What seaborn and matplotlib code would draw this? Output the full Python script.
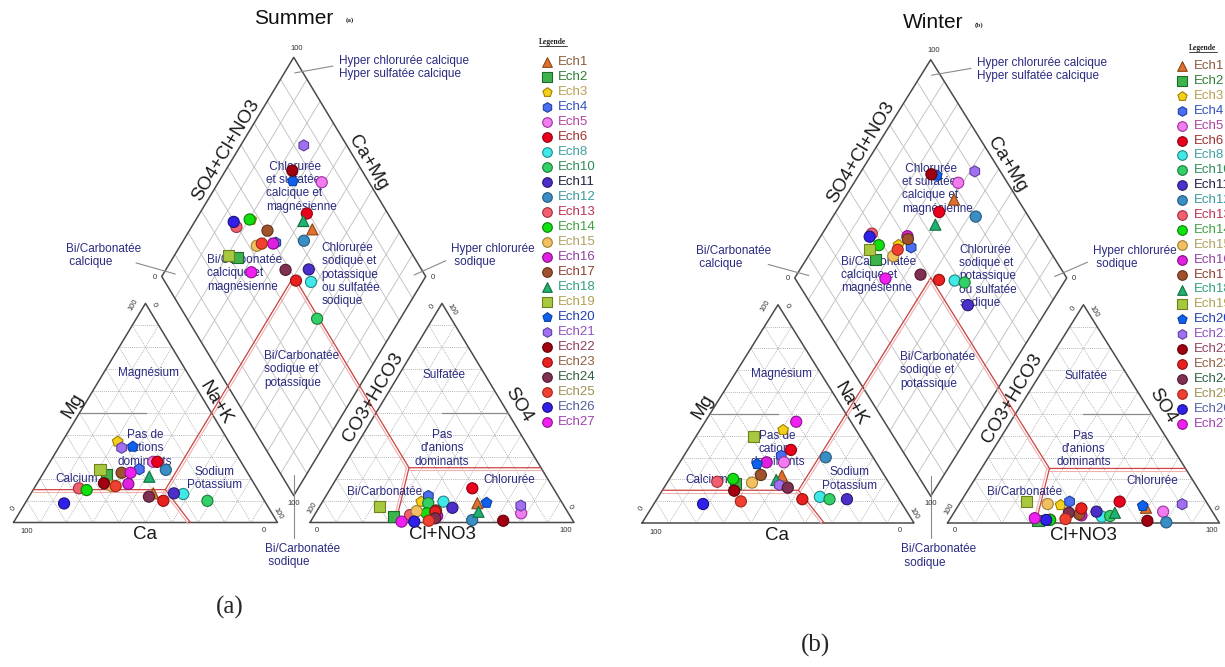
import numpy as np
import pandas as pd
import matplotlib.pyplot as plt
import seaborn as sns

## Echantillons et style de la legende
samples = ['Ech1', 'Ech2', 'Ech3', 'Ech4', 'Ech5', 'Ech6', 'Ech8', 'Ech10', 'Ech11',
           'Ech12', 'Ech13', 'Ech14', 'Ech15', 'Ech16', 'Ech17', 'Ech18', 'Ech19',
           'Ech20', 'Ech21', 'Ech22', 'Ech23', 'Ech24', 'Ech25', 'Ech26', 'Ech27']
markers = ['^', 's', 'p', 'h', 'o', 'o', 'o', 'o', 'o', 'o', 'o', 'o', 'o', 'o', 'o',
           '^', 's', 'p', 'h', 'o', 'o', 'o', 'o', 'o', 'o']
fill_colors = ['#e07030', '#3cb44b', '#f5d01a', '#4a6ef0', '#f07cf0', '#e8001c', '#40e8e8',
               '#33d067', '#4b2fc8', '#3a8ec4', '#f0606e', '#10e010', '#f2c060', '#e020e0',
               '#a0522d', '#20b070', '#a8c840', '#1060f0', '#a070f0', '#a00010', '#e82020',
               '#803050', '#f04030', '#3020e8', '#f020f0']
edge_colors = ['#8b4513', '#1e6b2a', '#a08000', '#2040a0', '#a030a0', '#900010', '#208888',
               '#1a7a3a', '#2a1a70', '#235a80', '#a03040', '#0a800a', '#a08030', '#801080',
               '#603018', '#107040', '#708020', '#0840a0', '#6040a0', '#600008', '#901010',
               '#501830', '#a02818', '#1a1080', '#901090']
text_colors = ['#8b5a3c', '#2e7d32', '#b8a050', '#3050c0', '#b040a0', '#a03030', '#40a0a0',
               '#2e8b57', '#202040', '#3a9a9a', '#c03050', '#40a040', '#b0a060', '#9040a0',
               '#904030', '#30a080', '#b0a050', '#2040b0', '#9050c0', '#904060', '#906040',
               '#306040', '#a09050', '#5060a0', '#a040b0']

## Ete (% meq)
summer_ca = [40.4, 53.9, 42.1, 40.2, 33.2, 31.7, 29.2, 21.6, 32.6, 30.3, 67.4, 64.9, 54.4,
             47.7, 47.7, 38.1, 55.1, 37.5, 42.0, 56.8, 38.3, 42.8, 53.0, 76.5, 44.3]
summer_mg = [13.3, 21.7, 36.9, 24.3, 27.7, 27.7, 13.0, 9.9, 13.3, 24.0, 15.6, 14.8, 16.6,
             17.6, 22.7, 20.9, 24.3, 34.6, 34.1, 17.9, 9.9, 11.8, 16.6, 8.7, 22.7]
summer_cl = [59.0, 30.3, 37.4, 38.8, 77.9, 53.7, 45.8, 40.4, 50.6, 60.9, 36.2, 42.1, 37.8,
             46.7, 45.0, 61.4, 22.5, 62.4, 76.0, 72.8, 45.0, 46.5, 44.6, 39.3, 34.5]
summer_so4 = [8.8, 2.6, 9.5, 12.1, 4.2, 15.6, 9.5, 8.8, 6.7, 1.1, 3.4, 4.2, 5.2,
              3.0, 5.5, 4.9, 7.5, 9.0, 7.7, 0.8, 4.9, 1.9, 0.8, 0.4, 0.4]

## Hiver (% meq)
winter_ca = [37.7, 56.5, 26.8, 33.4, 33.9, 28.5, 28.6, 25.6, 19.2, 17.4, 62.9, 56.4, 50.3,
             40.3, 45.3, 40.8, 39.4, 44.2, 40.8, 58.7, 35.6, 38.3, 58.7, 73.2, 20.1]
winter_mg = [21.7, 18.0, 42.6, 30.8, 27.8, 33.5, 12.0, 10.9, 10.9, 30.1, 18.9, 20.2, 18.5,
             27.8, 22.0, 19.7, 39.5, 27.0, 17.4, 14.8, 10.9, 16.2, 9.9, 8.7, 46.4]
winter_cl = [69.5, 32.8, 37.5, 40.0, 76.7, 58.4, 55.3, 58.2, 52.2, 80.3, 37.0, 37.0, 32.5,
             47.5, 46.5, 59.2, 24.3, 67.9, 82.0, 73.0, 45.9, 42.3, 42.5, 35.6, 31.0]
winter_so4 = [7.0, 1.0, 8.2, 9.8, 5.2, 9.8, 2.9, 3.2, 5.2, 0.3, 1.5, 1.4, 8.7,
              3.5, 4.0, 4.7, 9.8, 7.8, 8.6, 1.0, 6.7, 4.7, 1.8, 1.4, 2.2]

GAP = 12.3
H = np.sqrt(3) / 2
NAVY = '#2a2a80'

sns.set_theme(style='white')
plt.rcParams['font.family'] = ['Liberation Sans', 'DejaVu Sans']


def to_px(p, u, v):
    return p['x0'] + p['sx'] * np.asarray(u, float), p['y0'] - p['sy'] * np.asarray(v, float)


def cation_uv(ca, mg):
    ca, mg = np.asarray(ca), np.asarray(mg)
    return 100 - ca - mg / 2, mg * H


def anion_uv(cl, so4):
    cl, so4 = np.asarray(cl), np.asarray(so4)
    return 100 + GAP + cl + so4 / 2, so4 * H


def diamond_uv(ca, mg, cl, so4):
    c = np.asarray(ca) + np.asarray(mg)
    a = np.asarray(cl) + np.asarray(so4)
    return 100 + GAP / 2 + 0.5 * (a - c), GAP * H + H * (a + c)


def line(ax, p, us, vs, **kw):
    x, y = to_px(p, us, vs)
    ax.plot(x, y, **kw)


def red_line(ax, p, us, vs):
    x, y = to_px(p, us, vs)
    ax.plot(x, y, color='#d04545', lw=0.9, zorder=3)
    for i in range(len(x) - 1):
        dx, dy = x[i + 1] - x[i], y[i + 1] - y[i]
        L = np.hypot(dx, dy)
        nx, ny = -dy / L * 2.5, dx / L * 2.5
        ax.plot([x[i] + nx, x[i + 1] + nx], [y[i] + ny, y[i + 1] + ny],
                color='#efb0b0', lw=0.8, zorder=3)


def label(ax, p, u, v, s, **kw):
    x, y = to_px(p, u, v)
    ax.text(x, y, s, **kw)


def draw_frame(ax, p):
    grid_kw = dict(color='#a0a0a0', lw=0.5, ls=(0, (1.5, 1.5)), zorder=1)
    dgrid_kw = dict(color='#bdbdbd', lw=0.6, zorder=1)
    for off in [0, 100 + GAP]:
        for k in range(10, 100, 10):
            line(ax, p, [off + k / 2, off + 100 - k / 2], [k * H, k * H], **grid_kw)
            line(ax, p, [off + 100 - k, off + (100 - k) / 2], [0, (100 - k) * H], **grid_kw)
            line(ax, p, [off + k, off + (100 + k) / 2], [0, (100 - k) * H], **grid_kw)
        line(ax, p, [off, off + 100, off + 50, off], [0, 0, 100 * H, 0],
             color='#4a4a4a', lw=1.1, zorder=2)
    # traits gris a 50 %
    line(ax, p, [25, 50], [50 * H, 50 * H], color='#8a8a8a', lw=0.9, zorder=2)
    line(ax, p, [100 + GAP + 50, 100 + GAP + 75], [50 * H, 50 * H], color='#8a8a8a', lw=0.9, zorder=2)
    # losange
    bx, by = 100 + GAP / 2, GAP * H
    for k in range(10, 100, 10):
        line(ax, p, [bx + k / 2, bx + k / 2 - 50], [by + k * H, by + k * H + 100 * H], **dgrid_kw)
        line(ax, p, [bx - k / 2, bx - k / 2 + 50], [by + k * H, by + k * H + 100 * H], **dgrid_kw)
    line(ax, p, [bx, bx - 50, bx, bx + 50, bx], [by, by + 100 * H, by + 200 * H, by + 100 * H, by],
         color='#4a4a4a', lw=1.1, zorder=2)
    # limites de facies (rouge)
    cx, cy = bx, by + 100 * H
    red_line(ax, p, [7.5, 57.5, 67.0], [15 * H, 15 * H, 0])
    red_line(ax, p, [57.5, cx], [15 * H, cy])
    red_line(ax, p, [cx, 100 + GAP + 37.5, 100 + GAP + 87.5], [cy, 25 * H, 25 * H])
    red_line(ax, p, [100 + GAP + 37.5, 100 + GAP + 32.5], [25 * H, 0])
    # traits de rappel
    lk = dict(color='#8a8a8a', lw=0.8, zorder=2)
    line(ax, p, [106.5, 121.0], [177.7, 180.4], **lk)
    line(ax, p, [46.4, 61.3], [102.6, 98.2], **lk)
    line(ax, p, [163.8, 151.7], [103.5, 97.8], **lk)
    line(ax, p, [bx, bx], [18.8, -6.1], **lk)

    # textes des facies
    t = dict(color=NAVY, fontsize=8.5, linespacing=1.15, zorder=4)
    label(ax, p, 95.6, 143.0, ' Chlorurée\net sulfatée\ncalcique et\nmagnésienne', ha='left', va='top', **t)
    label(ax, p, 73.2, 106.1, 'Bi/Carbonatée\ncalcique et\nmagnésienne', ha='left', va='top', **t)
    label(ax, p, 116.7, 110.9, 'Chlorurée\nsodique et\npotassique\nou sulfatée\nsodique', ha='left', va='top', **t)
    label(ax, p, 94.9, 68.2, 'Bi/Carbonatée\nsodique et\npotassique', ha='left', va='top', **t)
    label(ax, p, 123.2, 184.9, 'Hyper chlorurée calcique\nHyper sulfatée calcique', ha='left', va='top', **t)
    label(ax, p, 19.8, 110.5, 'Bi/Carbonatée\n calcique', ha='left', va='top', **t)
    label(ax, p, 165.9, 110.5, 'Hyper chlorurée\n sodique', ha='left', va='top', **t)
    label(ax, p, 95.2, -8.1, 'Bi/Carbonatée\n sodique', ha='left', va='top', **t)
    label(ax, p, 51.3, 59.2, 'Magnésium', ha='center', va='center', **t)
    label(ax, p, 49.8, 37.0, 'Pas de\ncations\ndominants', ha='center', va='top', **t)
    label(ax, p, 23.9, 17.1, 'Calcium', ha='center', va='center', **t)
    label(ax, p, 76.3, 22.5, 'Sodium\nPotassium', ha='center', va='top', **t)
    label(ax, p, 163.1, 58.3, 'Sulfatée', ha='center', va='center', **t)
    label(ax, p, 162.3, 37.0, 'Pas\nd\'anions\ndominants', ha='center', va='top', **t)
    label(ax, p, 187.7, 16.8, 'Chlorurée', ha='center', va='center', **t)
    label(ax, p, 140.6, 12.2, 'Bi/Carbonatée', ha='center', va='center', **t)

    # noms des axes
    a = dict(color='#1a1a1a', fontsize=13.5, ha='center', va='center', zorder=4)
    label(ax, p, 80.4, 147.2, 'SO4+Cl+NO3', rotation=59, **a)
    label(ax, p, 134.1, 142.1, 'Ca+Mg', rotation=-59, **a)
    label(ax, p, 22.4, 46.4, 'Mg', rotation=59, **a)
    label(ax, p, 76.7, 47.2, 'Na+K', rotation=-59, **a)
    label(ax, p, 49.7, -4.9, 'Ca', **a)
    label(ax, p, 136.2, 49.6, 'CO3+HCO3', rotation=59, **a)
    label(ax, p, 191.3, 46.4, 'SO4', rotation=-59, **a)
    label(ax, p, 162.3, -4.9, 'Cl+NO3', **a)

    # graduations 0 / 100
    s = dict(color='#333333', fontsize=5.5, ha='center', va='center', zorder=4)
    label(ax, p, 5.0, -3.6, '100', **s)
    label(ax, p, 94.9, -3.0, '0', **s)
    label(ax, p, -0.1, 5.7, '0', rotation=59, **s)
    label(ax, p, 45.4, 86.0, '100', rotation=59, **s)
    label(ax, p, 53.2, 86.0, '0', rotation=-59, **s)
    label(ax, p, 100.0, 3.6, '100', rotation=-59, **s)
    label(ax, p, 115.0, -3.0, '0', **s)
    label(ax, p, 209.3, -3.0, '100', **s)
    label(ax, p, 113.1, 5.7, '100', rotation=59, **s)
    label(ax, p, 158.7, 85.2, '0', rotation=59, **s)
    label(ax, p, 166.0, 84.0, '100', rotation=-59, **s)
    label(ax, p, 210.8, 6.1, '0', rotation=-59, **s)
    label(ax, p, 107.2, 187.5, '100', **s)
    label(ax, p, 53.6, 97.0, '0', **s)
    label(ax, p, 158.9, 97.0, '0', **s)
    label(ax, p, bx, 7.7, '100', **s)


def draw_points(ax, p, ca, mg, cl, so4):
    cu, cv = cation_uv(ca, mg)
    au, av = anion_uv(cl, so4)
    du, dv = diamond_uv(ca, mg, cl, so4)
    frames = []
    for u, v in [(du, dv), (cu, cv), (au, av)]:
        x, y = to_px(p, u, v)
        frames.append(pd.DataFrame({'x': x, 'y': y, 'Ech': samples}))
    df = pd.concat(frames, ignore_index=True)
    sns.scatterplot(data=df, x='x', y='y', hue='Ech', style='Ech',
                    palette=dict(zip(samples, fill_colors)),
                    markers=dict(zip(samples, markers)),
                    s=64, linewidth=0.8, legend=False, ax=ax, zorder=5)
    ax.collections[-1].set_edgecolor(edge_colors * 3)


def draw_legend(ax, xm, xt, y0, step, xtitle, ytitle):
    ax.text(xtitle, ytitle, 'Legende', fontsize=5.5, fontweight='bold',
            family=['Liberation Serif'], ha='center', va='center', color='#222222')
    ax.plot([xtitle - 14, xtitle + 14], [ytitle + 4, ytitle + 4], color='#222222', lw=0.6)
    for i, name in enumerate(samples):
        y = y0 + i * step
        ax.scatter([xm], [y], marker=markers[i], s=48, c=fill_colors[i],
                   edgecolors=edge_colors[i], linewidths=0.8, zorder=5)
        ax.text(xt, y, name, fontsize=9.5, color=text_colors[i], ha='left', va='center')


LEFT = dict(x0=13.5, y0=522.5, sx=2.64, sy=2.53)
RIGHT = dict(x0=642.0, y0=523.0, sx=2.72, sy=2.52)

fig = plt.figure(figsize=(12.25, 6.67), dpi=100)
ax = fig.add_axes([0, 0, 1, 1])
ax.set_xlim(0, 1225)
ax.set_ylim(667, 0)
ax.axis('off')

draw_frame(ax, LEFT)
draw_points(ax, LEFT, summer_ca, summer_mg, summer_cl, summer_so4)
draw_legend(ax, 547, 558, 62.3, 15.0, 553, 42)
ax.text(294, 18, 'Summer', fontsize=15, ha='center', va='center', color='#111111')
ax.text(350, 20, '(a)', fontsize=5, fontweight='bold', family=['Liberation Serif'],
        ha='center', va='center')

draw_frame(ax, RIGHT)
draw_points(ax, RIGHT, winter_ca, winter_mg, winter_cl, winter_so4)
draw_legend(ax, 1182, 1194, 66.0, 14.9, 1203, 48)
ax.text(933, 23, 'Winter', fontsize=15, ha='center', va='center', color='#111111')
ax.text(979, 25, '(b)', fontsize=5, fontweight='bold', family=['Liberation Serif'],
        ha='center', va='center')

ax.text(230, 607, '(a)', fontsize=18, family=['Liberation Serif'], ha='center', va='center')
ax.text(815, 645, '(b)', fontsize=18, family=['Liberation Serif'], ha='center', va='center')

plt.savefig('out.png', dpi=100)
